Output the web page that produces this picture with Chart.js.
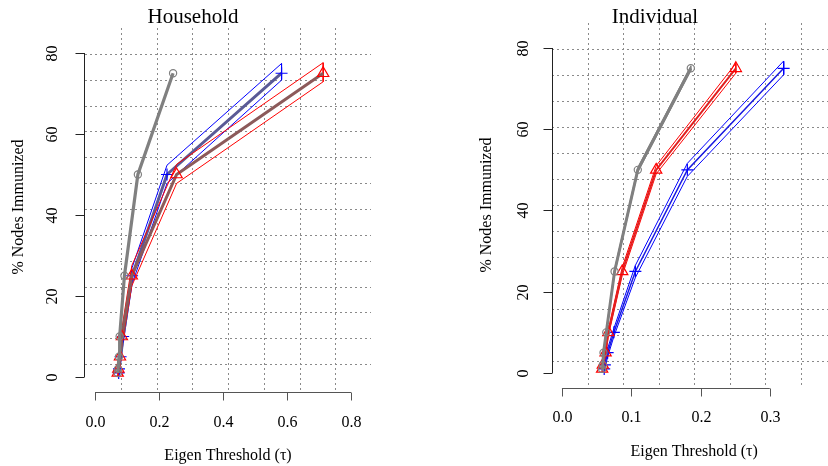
<!DOCTYPE html>
<html><head><meta charset="utf-8">
<script src="https://cdn.jsdelivr.net/npm/chart.js@4/dist/chart.umd.min.js"></script>
<style>
html,body{margin:0;padding:0;overflow:hidden;background:#fff;width:828px;height:466px;}
#c1{position:absolute;left:0;top:0;}
#c2{position:absolute;left:414px;top:0;}
</style></head><body>
<canvas id="c1" width="414" height="466"></canvas>
<canvas id="c2" width="430" height="466"></canvas>
<script>
// ---- data ----
const pctLevels = [1, 2, 5, 10, 25, 50, 75];

// Household panel
const hhGreyX = [0.071, 0.072, 0.075, 0.077, 0.092, 0.134, 0.244];
const hhBlueX = [0.074, 0.075, 0.080, 0.088, 0.116, 0.225, 0.583];
const hhBlueHi = [2.0, 3.0, 6.2, 11.5, 27.0, 52.3, 77.4];
const hhBlueLo = [0.0, 1.0, 3.8, 8.5, 23.0, 47.8, 73.3];
const hhRedX = [0.071, 0.073, 0.078, 0.084, 0.115, 0.255, 0.713];
const hhRedHi = [2.2, 3.2, 6.4, 12.0, 27.5, 52.5, 77.6];
const hhRedLo = [0.0, 0.8, 3.6, 8.0, 22.5, 47.8, 72.9];

// Individual panel
const indGreyX = [0.058, 0.059, 0.060, 0.064, 0.076, 0.1095, 0.186];
const indGreyHi = [1.6, 2.6, 5.6, 10.6, 25.6, 50.6, 75.6];
const indGreyLo = [0.4, 1.4, 4.4, 9.4, 24.4, 49.4, 74.4];
const indRedX = [0.058, 0.059, 0.063, 0.067, 0.087, 0.136, 0.251];
const indRedHi = [1.8, 2.8, 5.8, 10.8, 26.0, 51.0, 76.2];
const indRedLo = [0.2, 1.2, 4.2, 9.2, 24.0, 49.0, 73.8];
const indBlueX = [0.061, 0.062, 0.066, 0.075, 0.106, 0.181, 0.320];
const indBlueHi = [2.0, 3.0, 6.0, 11.0, 26.5, 51.6, 76.8];
const indBlueLo = [0.0, 1.0, 4.0, 9.0, 23.5, 48.4, 73.4];

// ticks and texts
const hhXTicks = [0, 0.2, 0.4, 0.6, 0.8];
const hhXTickLabels = ['0.0', '0.2', '0.4', '0.6', '0.8'];
const indXTicks = [0, 0.1, 0.2, 0.3];
const indXTickLabels = ['0.0', '0.1', '0.2', '0.3'];
const yTicks = [0, 20, 40, 60, 80];
const yTickLabels = ['0', '20', '40', '60', '80'];
const panelTitles = ['Household', 'Individual'];
const xTitle = 'Eigen Threshold (\u03c4)';
const yTitle = '% Nodes Immunized';

// ---- helpers ----
function pts(xs, ys) { return xs.map((x, i) => ({x: x, y: ys[i]})); }
function band(xs, hi, lo) {
  const up = xs.map((x, i) => ({x: x, y: hi[i]}));
  const dn = xs.map((x, i) => ({x: x, y: lo[i]})).reverse();
  return up.concat(dn, [up[0]]);
}
const FONT = "'Liberation Serif', 'DejaVu Serif', serif";

function rAxesPlugin(p) {
  return {
    id: 'raxes',
    beforeDatasetsDraw(chart) {
      const ctx = chart.ctx, a = chart.chartArea;
      ctx.save();
      ctx.strokeStyle = '#8a8a8a';
      ctx.lineWidth = 1;
      ctx.setLineDash([2, 3]);
      const w = a.right - a.left, h = a.bottom - a.top;
      for (let k = 1; k < 8; k++) {
        const x = Math.round(a.left + k * w / 8) + 0.5;
        ctx.beginPath(); ctx.moveTo(x, a.top); ctx.lineTo(x, a.bottom); ctx.stroke();
      }
      for (let k = 1; k < 14; k++) {
        const y = Math.round(a.top + k * h / 14) + 0.5;
        ctx.beginPath(); ctx.moveTo(a.left, y); ctx.lineTo(a.right, y); ctx.stroke();
      }
      ctx.restore();
    },
    afterDraw(chart) {
      const ctx = chart.ctx, a = chart.chartArea;
      const xs = chart.scales.x, ys = chart.scales.y;
      ctx.save();
      ctx.setLineDash([]);
      ctx.lineWidth = 1;
      // y axis
      ctx.strokeStyle = '#222';
      const ax = p.yAxisX + 0.5;
      const y0 = ys.getPixelForValue(yTicks[0]), y1 = ys.getPixelForValue(yTicks[yTicks.length - 1]);
      ctx.beginPath(); ctx.moveTo(ax, y0); ctx.lineTo(ax, y1); ctx.stroke();
      ctx.fillStyle = '#000';
      ctx.font = '16px ' + FONT;
      ctx.textAlign = 'center';
      ctx.textBaseline = 'alphabetic';
      yTicks.forEach((v, i) => {
        const y = Math.round(ys.getPixelForValue(v)) + 0.5;
        ctx.beginPath(); ctx.moveTo(ax, y); ctx.lineTo(ax - 9, y); ctx.stroke();
        ctx.save();
        ctx.translate(p.yLabelX + 5.3, y);
        ctx.rotate(-Math.PI / 2);
        ctx.fillText(yTickLabels[i], 0, 0);
        ctx.restore();
      });
      // x axis
      ctx.strokeStyle = '#555';
      const ay = p.xAxisY + 0.5;
      const xa = xs.getPixelForValue(p.xTicks[0]), xb = xs.getPixelForValue(p.xTicks[p.xTicks.length - 1]);
      ctx.beginPath(); ctx.moveTo(xa, ay); ctx.lineTo(xb, ay); ctx.stroke();
      p.xTicks.forEach((v, i) => {
        const x = Math.round(xs.getPixelForValue(v)) + 0.5;
        ctx.beginPath(); ctx.moveTo(x, ay); ctx.lineTo(x, ay + 8); ctx.stroke();
        ctx.fillText(p.xLabels[i], x, p.xLabelBase);
      });
      // axis titles
      const cx = (a.left + a.right) / 2;
      ctx.fillText(xTitle, cx, p.xTitleBase);
      ctx.save();
      ctx.translate(p.yTitleX, p.yTitleY);
      ctx.rotate(-Math.PI / 2);
      ctx.fillText(yTitle, 0, 0);
      ctx.restore();
      // main title
      ctx.font = '21px ' + FONT;
      ctx.fillText(p.title, p.titleX, 23);
      ctx.restore();
    }
  };
}

function lineDs(data, color, width, extra) {
  return Object.assign({
    data: data, showLine: true, borderColor: color, borderWidth: width,
    pointRadius: 0, fill: false, tension: 0
  }, extra || {});
}
function markerOpts(style, color, r) {
  return {pointStyle: style, pointRadius: r, pointBorderColor: color,
          pointBackgroundColor: 'rgba(0,0,0,0)', pointBorderWidth: 1.2, pointHoverRadius: r};
}

function makeChart(id, datasets, xr, yr, pad, p) {
  return new Chart(document.getElementById(id), {
    type: 'scatter',
    data: {datasets: datasets},
    options: {
      responsive: false, animation: false, devicePixelRatio: 1,
      layout: {padding: pad},
      plugins: {legend: {display: false}, tooltip: {enabled: false}},
      events: [],
      scales: {
        x: {type: 'linear', min: xr[0], max: xr[1], display: false},
        y: {type: 'linear', min: yr[0], max: yr[1], display: false}
      }
    },
    plugins: [rAxesPlugin(p)]
  });
}

// Household chart: area left 85, right 371, top 28, bottom 390
makeChart('c1', [
  lineDs(pts(hhGreyX, pctLevels), '#808080', 3.2, markerOpts('circle', '#808080', 3.6)),
  lineDs(pts(hhRedX, pctLevels), '#8c5a5a', 3, markerOpts('triangle', '#ff0000', 6.5)),
  lineDs(band(hhRedX, hhRedHi, hhRedLo), '#ff0000', 1),
  lineDs(pts(hhBlueX, pctLevels), '#5a5a96', 3, markerOpts('cross', '#0000ff', 6)),
  lineDs(band(hhBlueX, hhBlueHi, hhBlueLo), '#0000ff', 1)
], [-0.03125, 0.8625], [-3.21, 86.17], {left: 85, right: 43, top: 28, bottom: 76},
{yAxisX: 84, yLabelX: 52, xAxisY: 392, xTicks: hhXTicks, xLabels: hhXTickLabels,
 xLabelBase: 427, xTitleBase: 460, yTitleX: 23, yTitleY: 207, title: panelTitles[0], titleX: 193});

// Individual chart: area left 138 (page 552), right 424 (page 838), top 23, bottom 387
makeChart('c2', [
  lineDs(pts(indGreyX, pctLevels), '#808080', 3, markerOpts('circle', '#808080', 3.6)),
  lineDs(band(indGreyX, indGreyHi, indGreyLo), '#808080', 1),
  lineDs(pts(indRedX, pctLevels), '#e02020', 2, markerOpts('triangle', '#ff0000', 6.5)),
  lineDs(band(indRedX, indRedHi, indRedLo), '#ff0000', 1),
  lineDs(pts(indBlueX, pctLevels), '#1a1ae0', 1.5, markerOpts('cross', '#0000ff', 6)),
  lineDs(band(indBlueX, indBlueHi, indBlueLo), '#0000ff', 1)
], [-0.01435, 0.396], [-3.45, 86.15], {left: 138, right: 6, top: 23, bottom: 79},
{yAxisX: 138, yLabelX: 109, xAxisY: 388, xTicks: indXTicks, xLabels: indXTickLabels,
 xLabelBase: 422, xTitleBase: 456, yTitleX: 77, yTitleY: 205, title: panelTitles[1], titleX: 241});
</script>
</body></html>
